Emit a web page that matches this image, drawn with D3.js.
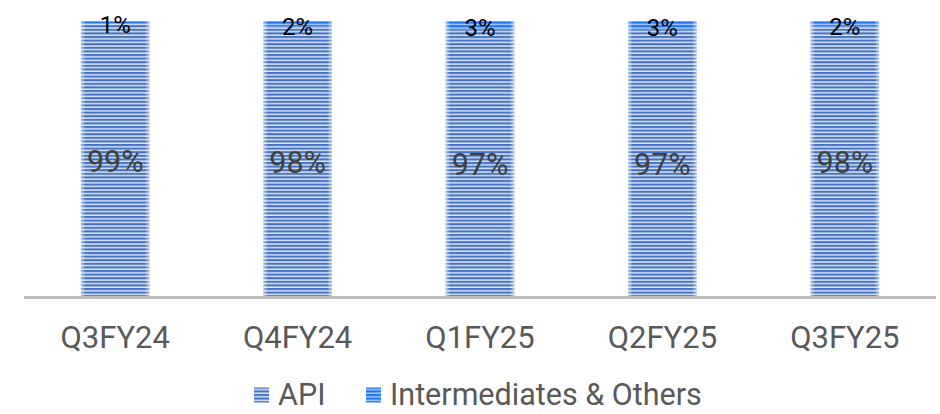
<!DOCTYPE html>
<html>
<head>
<meta charset="utf-8">
<script src="https://cdn.jsdelivr.net/npm/d3@7/dist/d3.min.js"></script>
<style>
  html, body { margin: 0; padding: 0; background: #ffffff; }
  svg { display: block; font-family: Roboto, "Noto Sans", sans-serif; }
</style>
</head>
<body>
<svg id="chart" width="940" height="414"></svg>
<script>
// Quarterly revenue mix (% share)
const categories = ["Q3FY24", "Q4FY24", "Q1FY25", "Q2FY25", "Q3FY25"];
const apiShare = [99, 98, 97, 97, 98];
const othersShare = [1, 2, 3, 3, 2];
const seriesNames = ["API", "Intermediates & Others"];

const rows = categories.map((c, i) => ({ cat: c, API: apiShare[i], Others: othersShare[i] }));

const svg = d3.select("#chart");

const x = d3.scaleBand().domain(categories).range([24, 936]).paddingInner(0.624).paddingOuter(0.312);
const y = d3.scaleLinear().domain([0, 100]).range([296, 21]);

const defs = svg.append("defs");

// Striped fills for the two series
function stripes(id, dark, light) {
  const p = defs.append("pattern")
    .attr("id", id)
    .attr("patternUnits", "userSpaceOnUse")
    .attr("width", 8).attr("height", 3.6);
  p.append("rect").attr("width", 8).attr("height", 3.6).attr("fill", light);
  p.append("rect").attr("width", 8).attr("height", 2.1).attr("fill", dark);
}
stripes("stripeApi", "#4472c4", "#dde6f5");
stripes("stripeOthers", "#1f74f2", "#a8c9fb");

// soft light edge on each bar
const edge = defs.append("linearGradient").attr("id", "edgeGlow")
  .attr("x1", "0").attr("x2", "1").attr("y1", "0").attr("y2", "0");
[[0, 0.55], [0.07, 0.0], [0.93, 0.0], [1, 0.55]].forEach(([o, a]) =>
  edge.append("stop").attr("offset", o).attr("stop-color", "#ffffff").attr("stop-opacity", a));

const stack = d3.stack().keys(["API", "Others"])(rows);
const fills = { API: "url(#stripeApi)", Others: "url(#stripeOthers)" };

const gBars = svg.append("g");
stack.forEach(layer => {
  gBars.selectAll(null).data(layer).enter().append("rect")
    .attr("x", d => x(d.data.cat))
    .attr("width", x.bandwidth())
    .attr("y", d => y(d[1]))
    .attr("height", d => y(d[0]) - y(d[1]))
    .attr("fill", fills[layer.key]);
});
// edge shading over each full bar
gBars.selectAll(null).data(rows).enter().append("rect")
  .attr("x", d => x(d.cat))
  .attr("width", x.bandwidth())
  .attr("y", d => y(d.API + d.Others))
  .attr("height", d => y(0) - y(d.API + d.Others))
  .attr("fill", "url(#edgeGlow)");

// baseline
svg.append("line")
  .attr("x1", 24).attr("x2", 936)
  .attr("y1", 297.5).attr("y2", 297.5)
  .attr("stroke", "#bfbfbf").attr("stroke-width", 3);

// value labels
const labels = svg.append("g").attr("text-anchor", "middle");
labels.selectAll(null).data(rows).enter().append("text")
  .attr("x", d => x(d.cat) + x.bandwidth() / 2)
  .attr("y", d => (y(0) + y(d.API)) / 2)
  .attr("dy", "0.4em")
  .attr("font-size", 30.5)
  .attr("fill", "#404040")
  .text(d => d.API + "%");
labels.selectAll(null).data(rows).enter().append("text")
  .attr("x", d => x(d.cat) + x.bandwidth() / 2)
  .attr("y", d => (y(d.API) + y(d.API + d.Others)) / 2)
  .attr("dy", "0.45em")
  .attr("font-size", 24)
  .attr("fill", "#000000")
  .text(d => d.Others + "%");

// category axis
const xAxis = svg.append("g")
  .attr("transform", "translate(0,298)")
  .call(d3.axisBottom(x).tickSize(0).tickPadding(28));
xAxis.select(".domain").remove();
xAxis.selectAll("text")
  .attr("font-size", 31)
  .attr("font-family", "Roboto, sans-serif")
  .attr("fill", "#595959");

// legend
const legend = svg.append("g").attr("transform", "translate(0,394)");
const legendItems = [
  { name: seriesNames[0], fill: "url(#stripeApi)", x: 254 },
  { name: seriesNames[1], fill: "url(#stripeOthers)", x: 366 }
];
legendItems.forEach(it => {
  legend.append("rect")
    .attr("x", it.x).attr("y", -6.5)
    .attr("width", 15).attr("height", 15)
    .attr("fill", it.fill);
  legend.append("text")
    .attr("x", it.x + 24).attr("y", 0).attr("dy", "0.36em")
    .attr("font-size", 30.5)
    .attr("fill", "#595959")
    .text(it.name);
});
</script>
</body>
</html>
